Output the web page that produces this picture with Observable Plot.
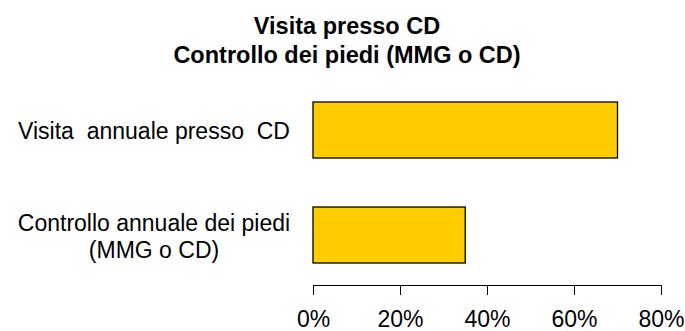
<!DOCTYPE html>
<html>
<head>
<meta charset="utf-8">
<script src="https://cdn.jsdelivr.net/npm/d3@7"></script>
<script src="https://cdn.jsdelivr.net/npm/@observablehq/plot@0.6"></script>
<style>
  html, body { margin: 0; padding: 0; background: #fff; }
  #chart { width: 685px; height: 331px; font-family: "Liberation Sans", Arial, sans-serif; }
  .title {
    box-sizing: border-box; width: 685px; height: 70px;
    padding: 12px 0 0 9px; text-align: center;
    font-size: 23.5px; line-height: 29px; font-weight: bold; color: #000;
  }
  svg { overflow: visible; }
  svg text { white-space: pre; }
</style>
</head>
<body>
<div id="chart">
  <div class="title">Visita presso CD<br>Controllo dei piedi (MMG o CD)</div>
</div>
<script>
// Indicators (top to bottom) and their share of patients, in percent
const categories = ["Visita  annuale presso  CD", "Controllo annuale dei piedi\n(MMG o CD)"];
const values = [70, 35];
const tickValues = [0, 20, 40, 60, 80];

const rows = categories.map((c, i) => ({category: c, value: values[i]}));

const plot = Plot.plot({
  width: 685,
  height: 261,
  marginLeft: 313,
  marginRight: 24,
  marginTop: 0,
  marginBottom: 46,
  style: {fontFamily: "'Liberation Sans', Arial, sans-serif", fontSize: "23px", color: "#000", background: "#fff"},
  x: {domain: [0, 80], ticks: tickValues, tickFormat: d => d + "%"},
  y: {domain: categories, range: [31, 193], paddingInner: 0.47, paddingOuter: 0},
  marks: [
    Plot.barX(rows, {x: "value", y: "category", fill: "#FFCC00", stroke: "#000", strokeWidth: 1.3}),
    Plot.frame({anchor: "bottom", stroke: "#000"}),
    Plot.axisX({ticks: tickValues, tickFormat: d => d + "%", tickSize: 10, tickPadding: 15.5, label: null, fontSize: 23}),
    Plot.axisY({tickSize: 0, tickPadding: 159.5, textAnchor: "middle", lineHeight: 27 / 23, label: null, fontSize: 23})
  ]
});
document.getElementById("chart").appendChild(plot);
</script>
</body>
</html>
